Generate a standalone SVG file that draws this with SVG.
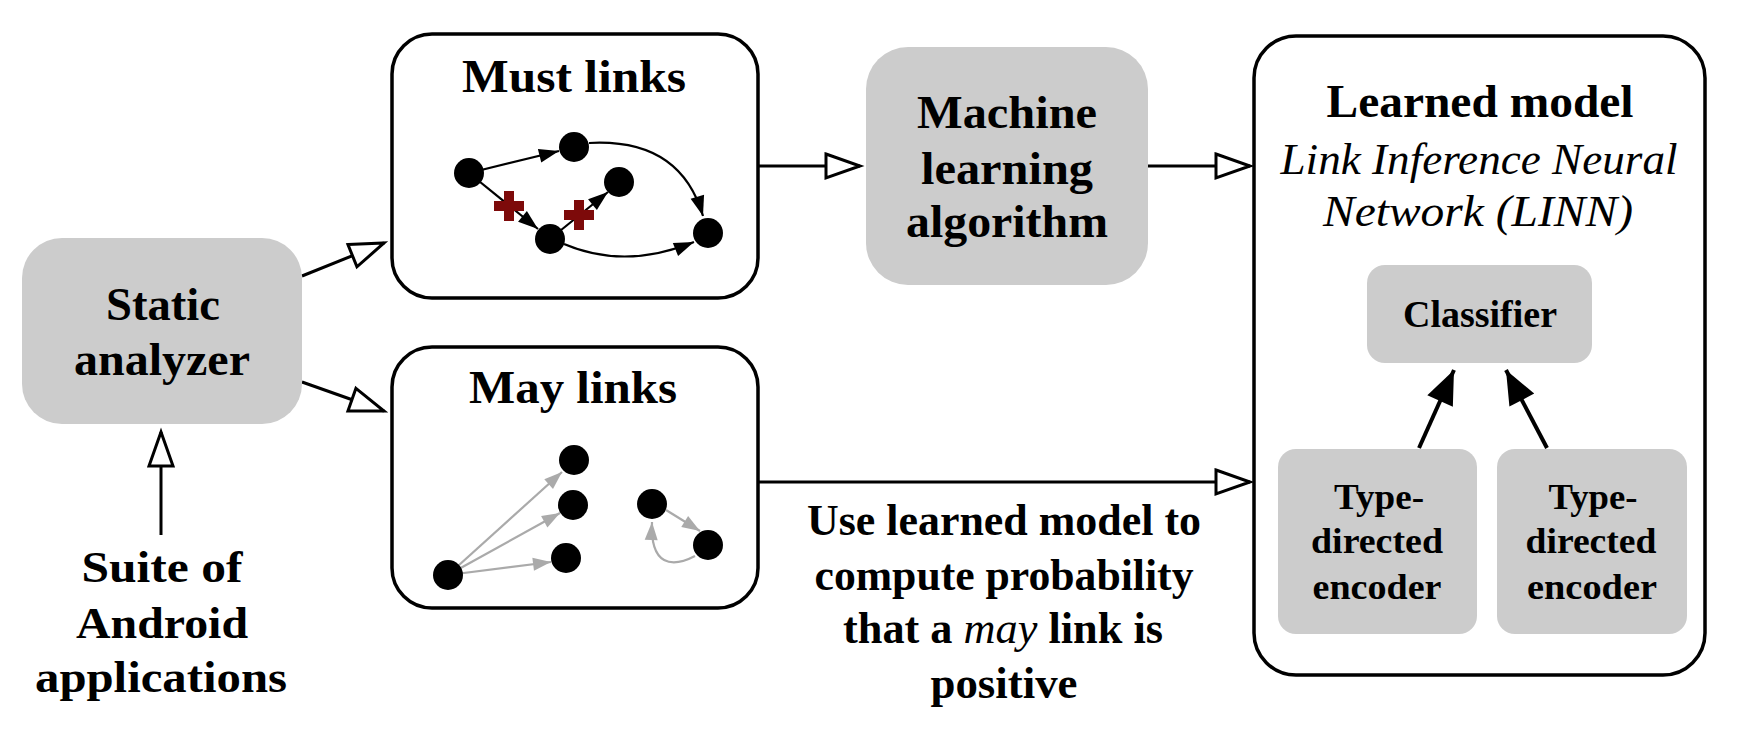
<svg xmlns="http://www.w3.org/2000/svg" width="1744" height="752" viewBox="0 0 1744 752">
<style>
  text { font-family: "Liberation Serif", "DejaVu Serif", serif; fill: #000; text-anchor: middle; }
  .t { font-weight: bold; font-size: 46px; }
  .b { font-weight: bold; font-size: 44px; }
  .it { font-style: italic; font-size: 45px; }
  .cls { font-weight: bold; font-size: 38px; }
  .enc { font-weight: bold; font-size: 36px; }
  .box { fill: #fff; stroke: #000; stroke-width: 3.5; }
  .gbox { fill: #cccccc; stroke: none; }
  .conn { stroke: #000; stroke-width: 3; fill: none; marker-end: url(#open); }
  .inner { stroke: #000; stroke-width: 4; fill: none; marker-end: url(#solid); }
  .ge { stroke: #000; stroke-width: 2.2; fill: none; marker-end: url(#small); }
  .gy { stroke: #aaaaaa; stroke-width: 2.2; fill: none; marker-end: url(#smallg); }
  .dot { fill: #000; }
  .cross { fill: #7d0a0a; }
</style>
<defs>
  <marker id="open" markerUnits="userSpaceOnUse" markerWidth="40" markerHeight="30" refX="35" refY="13" orient="auto" overflow="visible">
    <path d="M1,1 L35,13 L1,25 z" fill="#fff" stroke="#000" stroke-width="3" stroke-linejoin="miter"/>
  </marker>
  <marker id="solid" markerUnits="userSpaceOnUse" markerWidth="40" markerHeight="30" refX="34" refY="14" orient="auto" overflow="visible">
    <path d="M0,0 L34,14 L0,28 z" fill="#000"/>
  </marker>
  <marker id="small" markerUnits="userSpaceOnUse" markerWidth="22" markerHeight="16" refX="20" refY="7" orient="auto" overflow="visible">
    <path d="M0,0 L20,7 L0,14 z" fill="#000"/>
  </marker>
  <marker id="smallg" markerUnits="userSpaceOnUse" markerWidth="20" markerHeight="16" refX="18" refY="6.5" orient="auto" overflow="visible">
    <path d="M0,0 L18,6.5 L0,13 z" fill="#aaaaaa"/>
  </marker>
</defs>

<g id="connectors">
  <line class="conn" x1="302" y1="276" x2="384" y2="243"/>
  <line class="conn" x1="302" y1="382" x2="384" y2="411"/>
  <line class="conn" x1="161" y1="535" x2="161" y2="432"/>
  <line class="conn" x1="758" y1="166" x2="860" y2="166"/>
  <line class="conn" x1="1148" y1="166" x2="1250" y2="166"/>
  <line class="conn" x1="758" y1="482" x2="1250" y2="482"/>
</g>

<g id="static-analyzer">
  <rect class="gbox" x="22" y="238" width="280" height="186" rx="40"/>
  <text class="t" x="163" y="320" textLength="114" lengthAdjust="spacingAndGlyphs">Static</text>
  <text class="t" x="162" y="375" textLength="176" lengthAdjust="spacingAndGlyphs">analyzer</text>
</g>

<g id="suite">
  <text class="b" x="162" y="582" textLength="161" lengthAdjust="spacingAndGlyphs">Suite of</text>
  <text class="b" x="162" y="638" textLength="172" lengthAdjust="spacingAndGlyphs">Android</text>
  <text class="b" x="161" y="692" textLength="252" lengthAdjust="spacingAndGlyphs">applications</text>
</g>

<g id="must-links">
  <rect class="box" x="392" y="34" width="366" height="264" rx="40"/>
  <text class="t" x="574" y="92" textLength="224" lengthAdjust="spacingAndGlyphs">Must links</text>
  <line class="ge" x1="469" y1="173" x2="559" y2="151"/>
  <line class="ge" x1="469" y1="173" x2="538" y2="229"/>
  <line class="ge" x1="550" y1="239" x2="608" y2="192"/>
  <path class="ge" d="M589 143 Q680 138 703 216"/>
  <path class="ge" d="M564 244 Q625 270 694 242"/>
  <circle class="dot" cx="469" cy="173" r="15"/>
  <circle class="dot" cx="574" cy="147" r="15"/>
  <circle class="dot" cx="619" cy="182" r="15"/>
  <circle class="dot" cx="550" cy="239" r="15"/>
  <circle class="dot" cx="708" cy="233" r="15"/>
  <path class="cross" d="M504 191 h10 v10 h10 v10 h-10 v10 h-10 v-10 h-10 v-10 h10 z"/>
  <path class="cross" d="M574 200 h10 v10 h10 v10 h-10 v10 h-10 v-10 h-10 v-10 h10 z"/>
</g>

<g id="may-links">
  <rect class="box" x="392" y="347" width="366" height="261" rx="40"/>
  <text class="t" x="573" y="403" textLength="208" lengthAdjust="spacingAndGlyphs">May links</text>
  <line class="gy" x1="448" y1="575" x2="562" y2="472"/>
  <line class="gy" x1="448" y1="575" x2="560" y2="513"/>
  <line class="gy" x1="448" y1="575" x2="551" y2="562"/>
  <line class="gy" x1="666" y1="510" x2="700" y2="531"/>
  <path class="gy" d="M695 556 C672 568 650 566 652 522"/>
  <circle class="dot" cx="448" cy="575" r="15"/>
  <circle class="dot" cx="574" cy="460" r="15"/>
  <circle class="dot" cx="573" cy="505" r="15"/>
  <circle class="dot" cx="566" cy="558" r="15"/>
  <circle class="dot" cx="652" cy="504" r="15"/>
  <circle class="dot" cx="708" cy="545" r="15"/>
</g>

<g id="ml-algorithm">
  <rect class="gbox" x="866" y="47" width="282" height="238" rx="42"/>
  <text class="t" x="1007" y="128" textLength="180" lengthAdjust="spacingAndGlyphs">Machine</text>
  <text class="t" x="1007" y="184" textLength="172" lengthAdjust="spacingAndGlyphs">learning</text>
  <text class="t" x="1007" y="237" textLength="202" lengthAdjust="spacingAndGlyphs">algorithm</text>
</g>

<g id="use-label">
  <text class="b" x="1004" y="535" textLength="394" lengthAdjust="spacingAndGlyphs">Use learned model to</text>
  <text class="b" x="1004" y="590" textLength="379" lengthAdjust="spacingAndGlyphs">compute probability</text>
  <text class="b" x="1003" y="643" textLength="320" lengthAdjust="spacingAndGlyphs">that a <tspan font-style="italic" font-weight="normal">may</tspan> link is</text>
  <text class="b" x="1004" y="698" textLength="147" lengthAdjust="spacingAndGlyphs">positive</text>
</g>

<g id="learned-model">
  <rect class="box" x="1254" y="36" width="451" height="639" rx="42"/>
  <text class="t" x="1480" y="117" textLength="307" lengthAdjust="spacingAndGlyphs">Learned model</text>
  <text class="it" x="1479" y="174" textLength="397" lengthAdjust="spacingAndGlyphs">Link Inference Neural</text>
  <text class="it" x="1478" y="226" textLength="310" lengthAdjust="spacingAndGlyphs">Network (LINN)</text>
</g>

<g id="classifier">
  <rect class="gbox" x="1367" y="265" width="225" height="98" rx="18"/>
  <text class="cls" x="1480" y="327" textLength="154" lengthAdjust="spacingAndGlyphs">Classifier</text>
</g>

<g id="encoder-left">
  <rect class="gbox" x="1278" y="449" width="199" height="185" rx="18"/>
  <text class="enc" x="1379" y="509" textLength="90" lengthAdjust="spacingAndGlyphs">Type-</text>
  <text class="enc" x="1377" y="553" textLength="132" lengthAdjust="spacingAndGlyphs">directed</text>
  <text class="enc" x="1377" y="599" textLength="129" lengthAdjust="spacingAndGlyphs">encoder</text>
</g>

<g id="encoder-right">
  <rect class="gbox" x="1497" y="449" width="190" height="185" rx="18"/>
  <text class="enc" x="1593" y="509" textLength="89" lengthAdjust="spacingAndGlyphs">Type-</text>
  <text class="enc" x="1591" y="553" textLength="131" lengthAdjust="spacingAndGlyphs">directed</text>
  <text class="enc" x="1592" y="599" textLength="130" lengthAdjust="spacingAndGlyphs">encoder</text>
</g>

<g id="inner-connectors">
  <line class="inner" x1="1419" y1="448" x2="1454" y2="370"/>
  <line class="inner" x1="1547" y1="448" x2="1506" y2="370"/>
</g>
</svg>
